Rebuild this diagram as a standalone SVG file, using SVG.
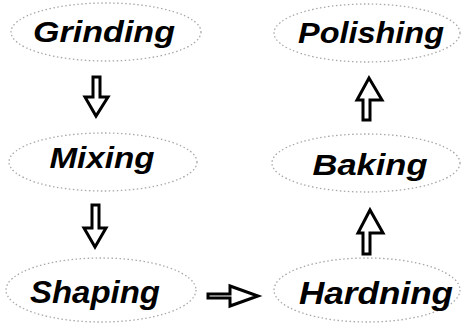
<svg xmlns="http://www.w3.org/2000/svg" width="462" height="326" viewBox="0 0 462 326">
<style>
.node ellipse{fill:#ffffff;stroke:#a8a8a8;stroke-width:1.3;stroke-dasharray:1.5 2.5}
.node text{font-family:"Liberation Sans",Arial,sans-serif;font-weight:bold;font-style:italic;font-size:30px;fill:#000;text-anchor:middle}
.arrow{fill:#ffffff;stroke:#000;stroke-width:3;stroke-linejoin:miter}
</style>
<rect width="462" height="326" fill="#ffffff"/>
<g id="grinding" class="node"><ellipse cx="106" cy="32" rx="95" ry="29"/><text x="104" y="42" textLength="142" lengthAdjust="spacingAndGlyphs">Grinding</text></g>
<g id="polishing" class="node"><ellipse cx="367" cy="33" rx="93" ry="29"/><text x="371" y="43" textLength="146" lengthAdjust="spacingAndGlyphs">Polishing</text></g>
<g id="mixing" class="node"><ellipse cx="103" cy="162" rx="94" ry="29"/><text x="102" y="168" textLength="105" lengthAdjust="spacingAndGlyphs">Mixing</text></g>
<g id="baking" class="node"><ellipse cx="366" cy="163" rx="94" ry="29"/><text x="370" y="175" textLength="115" lengthAdjust="spacingAndGlyphs">Baking</text></g>
<g id="shaping" class="node"><ellipse cx="101" cy="290" rx="95" ry="32"/><text x="95" y="303" textLength="130" lengthAdjust="spacingAndGlyphs" style="font-size:32px">Shaping</text></g>
<g id="hardning" class="node"><ellipse cx="367" cy="290" rx="93" ry="32"/><text x="376" y="304" textLength="154" lengthAdjust="spacingAndGlyphs" style="font-size:32px">Hardning</text></g>
<g id="connectors">
<polygon class="arrow" points="93,77 100,77 100,97 108,97 96,116 85,97 93,97"/>
<polygon class="arrow" points="92,205 99,205 99,228 106,228 95,247 84,228 92,228"/>
<polygon class="arrow" points="363,120 370,120 370,100 382,100 369,78 357,100 363,100"/>
<polygon class="arrow" points="363,254 370,254 370,233 383,233 370,210 358,233 363,233"/>
<polygon class="arrow" points="208,294 230,294 230,286 258,296 230,306 230,298 208,298"/>
</g>
</svg>
